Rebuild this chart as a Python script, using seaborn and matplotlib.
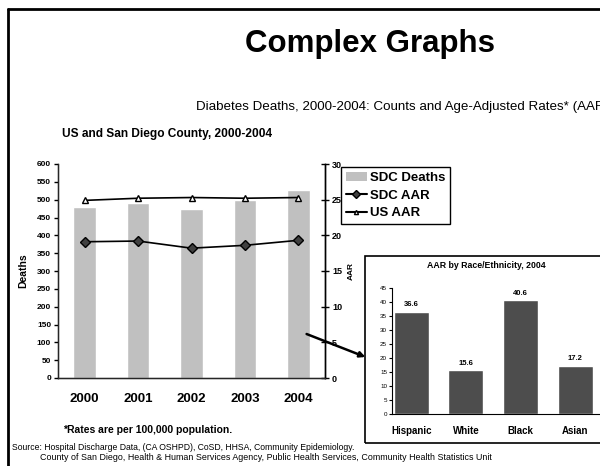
import matplotlib
matplotlib.use('Agg')
import matplotlib.pyplot as plt
from matplotlib.patches import Rectangle, Patch
from matplotlib.lines import Line2D
import numpy as np
import seaborn as sns

years = ['2000', '2001', '2002', '2003', '2004']
sdc_deaths = [480, 490, 473, 498, 528]
sdc_aar = [19.1, 19.2, 18.2, 18.6, 19.3]
us_aar = [24.9, 25.2, 25.3, 25.2, 25.3]

races = ['Hispanic', 'White', 'Black', 'Asian']
race_aar = [36.6, 15.6, 40.6, 17.2]

sns.set_style('white')
plt.rcParams['font.family'] = ['Liberation Sans', 'DejaVu Sans']
plt.rcParams['text.color'] = 'black'
plt.rcParams['axes.labelcolor'] = 'black'
plt.rcParams['xtick.color'] = 'black'
plt.rcParams['ytick.color'] = 'black'

W, H = 600, 466
fig = plt.figure(figsize=(6, 4.66), dpi=100)


def fx(px):
    return px / W


def fy(py):
    return 1 - py / H


# slide frame
fig.add_artist(Line2D([fx(8), fx(8)], [0, fy(9)], color='black', lw=2))
fig.add_artist(Line2D([fx(8), 1], [fy(9), fy(9)], color='black', lw=2))

fig.text(fx(370), fy(44), 'Complex Graphs', ha='center', va='center',
         fontsize=22.5, fontweight='bold')
fig.text(fx(196), fy(107), 'Diabetes Deaths, 2000-2004: Counts and Age-Adjusted Rates* (AAR)',
         ha='left', va='center', fontsize=9.6)
fig.text(fx(62), fy(134), 'US and San Diego County, 2000-2004', ha='left',
         va='center', fontsize=8.6, fontweight='bold')

# main chart
ax = fig.add_axes([fx(58), fy(378), fx(325) - fx(58), fy(164) - fy(378)])
sns.barplot(x=years, y=sdc_deaths, ax=ax, color='#c0c0c0', width=0.42,
            saturation=1)
ax.set_xlim(-0.5, 4.5)
ax.set_ylim(0, 600)
ax.set_yticks(np.arange(0, 601, 50))
ax.set_xticks([0.5, 1.5, 2.5, 3.5])
ax.set_xticklabels([])
ax.set_xticks(range(5), minor=True)
ax.set_xticklabels(years, minor=True, fontsize=9.5, fontweight='bold')
ax.tick_params(axis='x', which='major', direction='inout', length=7, width=1)
ax.tick_params(axis='x', which='minor', length=0, pad=11)
ax.tick_params(axis='y', direction='out', length=3, width=1, labelsize=6,
               pad=2, left=True)
for lab in ax.get_yticklabels():
    lab.set_fontweight('bold')
ax.set_ylabel('Deaths', fontsize=7.5, fontweight='bold', labelpad=6)
ax.set_xlabel('')
for s in ['left', 'bottom', 'right']:
    ax.spines[s].set_visible(True)
    ax.spines[s].set_color('black')
    ax.spines[s].set_linewidth(1)
ax.spines['top'].set_visible(False)

ax2 = ax.twinx()
ax2.plot(np.arange(len(years)), sdc_aar, color='black', lw=1.2, marker='D',
         markersize=5, markerfacecolor='#404040', markeredgecolor='black')
ax2.plot(np.arange(len(years)), us_aar, color='black', lw=1.2, marker='^',
         markersize=4, markerfacecolor='white', markeredgecolor='black')
ax2.set_ylim(0, 30)
ax2.set_yticks(np.arange(0, 31, 5))
ax2.tick_params(axis='y', direction='inout', length=6, width=1, labelsize=6.5,
                pad=2, right=True)
for lab in ax2.get_yticklabels():
    lab.set_fontweight('bold')
ax2.set_ylabel('AAR', fontsize=6, fontweight='bold', labelpad=4)
ax2.spines['top'].set_visible(False)
ax2.spines['right'].set_linewidth(1)
ax2.spines['right'].set_color('black')
ax2.set_xlim(-0.5, 4.5)

handles = [Patch(facecolor='#c0c0c0', edgecolor='none', label='SDC Deaths'),
           Line2D([], [], color='black', marker='D', markersize=4,
                  markerfacecolor='#404040', label='SDC AAR'),
           Line2D([], [], color='black', marker='^', markersize=3,
                  markerfacecolor='white', label='US AAR')]
leg = fig.legend(handles=handles, loc='upper left',
                 bbox_to_anchor=(fx(341), fy(167)), frameon=True,
                 fancybox=False, edgecolor='black', framealpha=1,
                 prop={'weight': 'bold', 'size': 9.5}, handlelength=1.6,
                 handletextpad=0.25, borderpad=0.35, labelspacing=0.42,
                 borderaxespad=0)
leg.get_frame().set_linewidth(1)

fig.text(fx(63), fy(430), '*Rates are per 100,000 population.', ha='left',
         va='center', fontsize=7.5, fontweight='bold')
fig.text(fx(12), fy(447),
         'Source: Hospital Discharge Data, (CA OSHPD), CoSD, HHSA, Community Epidemiology.',
         ha='left', va='center', fontsize=6.2)
fig.text(fx(40), fy(458),
         'County of San Diego, Health & Human Services Agency, Public Health Services, Community Health Statistics Unit',
         ha='left', va='center', fontsize=6.4)

# inset chart
fig.add_artist(Rectangle((fx(365), fy(443)), 0.5, fy(256) - fy(443),
                         transform=fig.transFigure, fill=False,
                         edgecolor='black', lw=1.2, zorder=3))
ax3 = fig.add_axes([fx(392), fy(414), 1 - fx(392), fy(288) - fy(414)])
sns.barplot(x=races, y=race_aar, ax=ax3, color='#4d4d4d', width=0.64,
            saturation=1)
ax3.set_xlim(-0.35, 3.45)
ax3.set_ylim(0, 45)
ax3.set_yticks(np.arange(0, 46, 5))
ax3.set_xticks([0.5, 1.5, 2.5])
ax3.set_xticklabels([])
ax3.set_xticks(range(4), minor=True)
ax3.set_xticklabels(races, minor=True, fontsize=7, fontweight='bold')
ax3.tick_params(axis='x', which='major', direction='out', length=3, width=1)
ax3.tick_params(axis='x', which='minor', length=0, pad=9)
ax3.tick_params(axis='y', direction='out', length=2, width=0.8, labelsize=4.5,
                pad=1.5, left=True)
ax3.set_xlabel('')
ax3.set_ylabel('')
for s in ['top', 'right']:
    ax3.spines[s].set_visible(False)
for s in ['left', 'bottom']:
    ax3.spines[s].set_color('black')
    ax3.spines[s].set_linewidth(0.8)
for i, v in enumerate(race_aar):
    ax3.text(i, v + 1.3, f'{v}', ha='center', va='bottom', fontsize=5.5,
             fontweight='bold')
fig.text(fx(486), fy(266), 'AAR by Race/Ethnicity, 2004', ha='center',
         va='center', fontsize=6.3, fontweight='bold')

# arrow from main chart to inset
ax.annotate('', xy=(fx(368), fy(358)), xycoords='figure fraction',
            xytext=(fx(304), fy(333)), textcoords='figure fraction',
            arrowprops=dict(arrowstyle='-|>', color='black', lw=1.8,
                            mutation_scale=8), annotation_clip=False)

fig.savefig('out.png', dpi=100)
